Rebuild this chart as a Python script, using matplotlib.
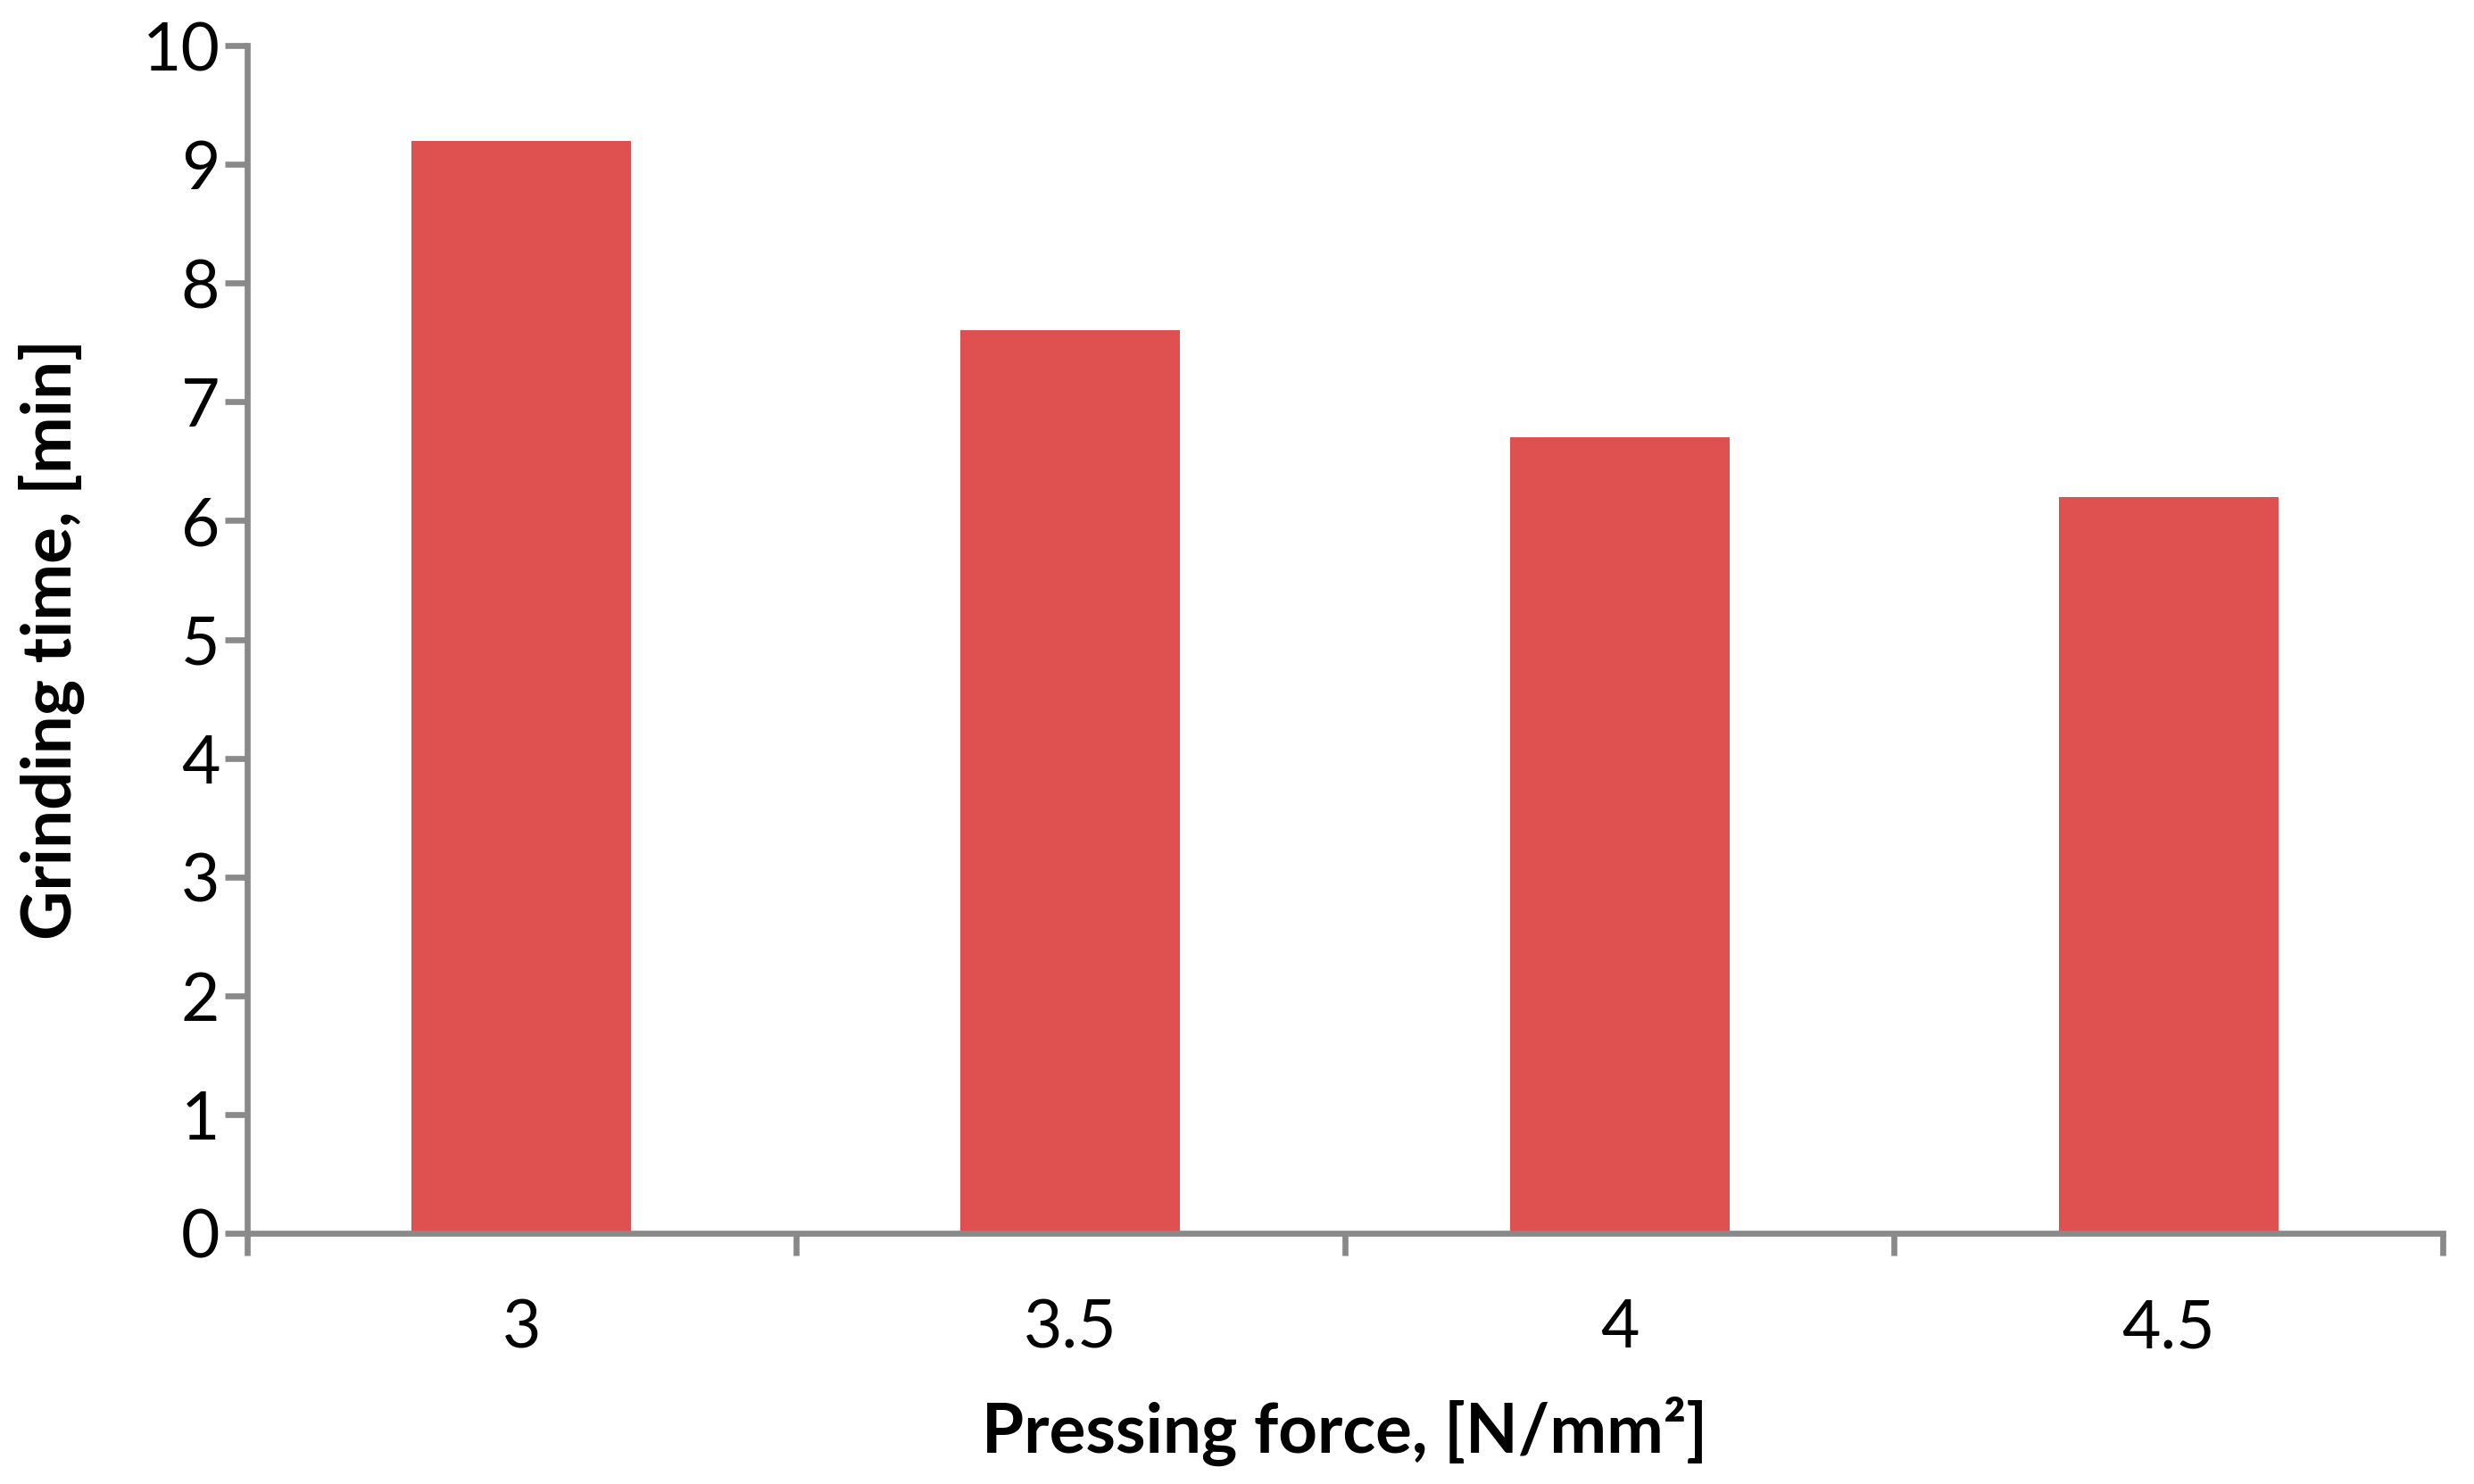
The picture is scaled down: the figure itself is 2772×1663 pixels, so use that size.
import numpy as np
import matplotlib
matplotlib.use('Agg')
import matplotlib.pyplot as plt
from matplotlib.ticker import FixedLocator

#data
categories = ['3', '3.5', '4', '4.5']
grinding_time = [9.2, 7.6, 6.7, 6.2]
yticks = list(range(0, 11))

plt.rcParams['font.family'] = ['Lato', 'DejaVu Sans']

fig = plt.figure(figsize=(27.72, 16.63), dpi=100)
ax = fig.add_axes([0.0999, 0.169, 0.8875, 0.8003])

x = np.arange(len(categories))
ax.bar(x, grinding_time, width=0.40, color='#DF5050', zorder=1)

#axis settings
ax.set_xlim(-0.5, len(categories) - 0.5)
ax.set_ylim(0, 10)
ax.set_yticks(yticks)
ax.set_xticks(x)
ax.set_xticklabels(categories)
ax.xaxis.set_minor_locator(FixedLocator(np.arange(-0.5, len(categories), 1.0)))

grey = '#898989'
for side in ['top', 'right']:
    ax.spines[side].set_visible(False)
for side in ['left', 'bottom']:
    ax.spines[side].set_color(grey)
    ax.spines[side].set_linewidth(4.8)

ax.tick_params(axis='x', which='major', length=0, pad=52, labelsize=54)
ax.tick_params(axis='x', which='minor', length=18, width=4.8, color=grey)
ax.tick_params(axis='y', which='major', length=18, width=4.8, color=grey,
               pad=4, labelsize=54)

ax.set_xlabel('Pressing force, [N/mm²]', fontsize=55, fontweight='bold', labelpad=30)
ax.set_ylabel('Grinding time, [min]', fontsize=55, fontweight='bold', labelpad=46)

fig.savefig('out.png', dpi=100)
